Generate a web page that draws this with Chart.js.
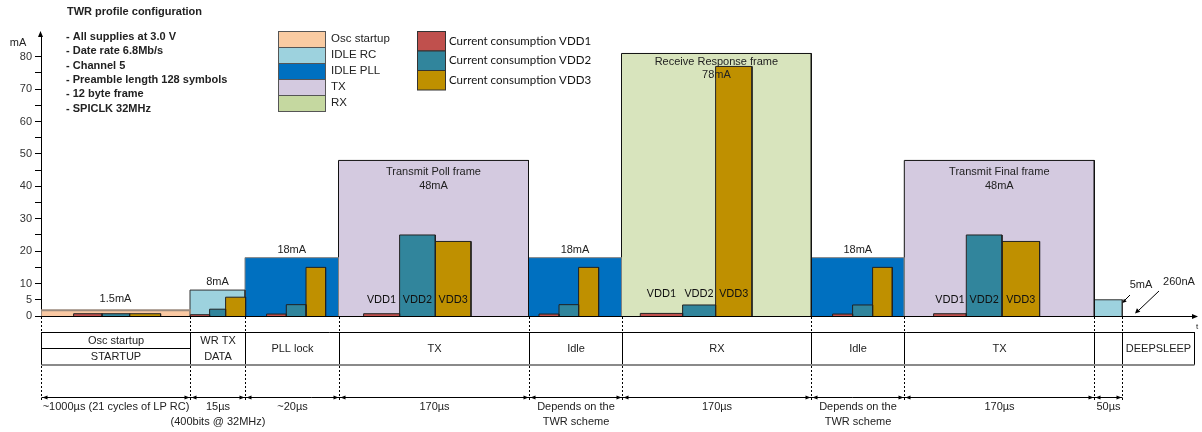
<!DOCTYPE html>
<html>
<head>
<meta charset="utf-8">
<script src="https://cdn.jsdelivr.net/npm/chart.js@4.4.0/dist/chart.umd.min.js"></script>
<style>
body { margin: 0; background: #fff; }
#wrap { width: 1202px; height: 432px; }
</style>
</head>
<body>
<div id="wrap"><canvas id="myChart" width="1202" height="432"></canvas></div>
<script>
var segStates = ['osc', 'idleRC', 'idlePLL', 'tx', 'idlePLL', 'rx', 'idlePLL', 'tx', 'idleRC'];
var segCurrent = [1.8, 8, 18, 48, 18, 81, 18, 48, 5];
var segLabels = [['1.5mA'], ['8mA'], ['18mA'], ['Transmit Poll frame', '48mA'], ['18mA'],
                 ['Receive Response frame', '78mA'], ['18mA'], ['Transmit Final frame', '48mA'], []];
var vdd1 = [0.7, 0.4, 0.6, 0.7, 0.6, 0.8, 0.6, 0.7];
var vdd2 = [0.7, 2.1, 3.5, 25, 3.5, 3.4, 3.4, 25];
var vdd3 = [0.7, 5.8, 15, 23, 15, 77, 15, 23];
var vddNamed = [3, 5, 7]; // segments où VDD1/2/3 sont écrits
var phaseNames = [['Osc startup', 'STARTUP'], ['WR TX', 'DATA'], ['PLL lock'], ['TX'], ['Idle'], ['RX'],
                  ['Idle'], ['TX'], [''], ['DEEPSLEEP']];
var durations = [['~1000µs (21 cycles of LP RC)'], ['15µs', '(400bits @ 32MHz)'], ['~20µs'], ['170µs'],
                 ['Depends on the', 'TWR scheme'], ['170µs'], ['Depends on the', 'TWR scheme'], ['170µs'], ['50µs']];
var yTicks = [0, 5, 10, 15, 20, 25, 30, 35, 40, 45, 50, 55, 60, 65, 70, 75, 80];
var yTickLabels = [0, 5, 10, 20, 30, 40, 50, 60, 70, 80];
var notes = ['- All supplies at 3.0 V', '- Date rate 6.8Mb/s', '- Channel 5',
             '- Preamble length 128 symbols', '- 12 byte frame', '- SPICLK 32MHz'];

// mise en page (unités de l'axe x)
var segEdges = [0, 149, 204, 297.5, 487.5, 580.5, 770.3, 863.3, 1053.3, 1081.3];
var tableEnd = 1153.3;
var barEdges = [[32.6, 61, 88.6, 119.6], [149.3, 168.6, 184.6, 204.6], [225.6, 245.3, 265, 284.6],
                [322.6, 358.6, 394.3, 430], [498, 518, 537.6, 557.6], [599.3, 641.6, 674.6, 711],
                [791.6, 811.6, 831.6, 851.3], [892.6, 925.3, 961, 998.6]];

var stateColors = { osc: '#fac9a3', idleRC: '#9dd2de', idlePLL: '#0070c0', tx: '#d4cae0', rx: '#d8e4bd' };
var stateBorders = { osc: '#9c8b7e', idleRC: '#333333', idlePLL: '#808080', tx: '#111111', rx: '#111111' };
var vddColors = ['#c0504d', '#31859c', '#bf9000'];

function rect(x0, x1, h) {
    return [{x: x0, y: 0}, {x: x0, y: h}, {x: x1, y: h}, {x: x1, y: 0}];
}

var datasets = [];
segCurrent.forEach(function(h, i) {
    var st = segStates[i];
    datasets.push({
        data: rect(segEdges[i], segEdges[i + 1], h),
        backgroundColor: stateColors[st],
        borderColor: stateBorders[st],
        borderWidth: st === 'osc' ? 2 : 1,
        fill: 'origin', pointRadius: 0, tension: 0, order: 2
    });
});
[vdd1, vdd2, vdd3].forEach(function(serie, k) {
    serie.forEach(function(v, i) {
        datasets.push({
            data: rect(barEdges[i][k], barEdges[i][k + 1], v),
            backgroundColor: vddColors[k],
            borderColor: '#222',
            borderWidth: 1,
            fill: 'origin', pointRadius: 0, tension: 0, order: 1
        });
    });
});

var ARIAL = '"Liberation Sans", Arial, sans-serif';
var CALI = 'Lato, "Open Sans", sans-serif';

function arrowHead(ctx, tx, ty, dx, dy, len, half) {
    // pointe en (tx,ty), direction (dx,dy)
    ctx.beginPath();
    ctx.moveTo(tx, ty);
    ctx.lineTo(tx - dx * len - dy * half, ty - dy * len + dx * half);
    ctx.lineTo(tx - dx * len + dy * half, ty - dy * len - dx * half);
    ctx.closePath();
    ctx.fill();
}

var decor = {
    id: 'decor',
    afterDraw: function(chart) {
        var ctx = chart.ctx;
        var xs = chart.scales.x, ys = chart.scales.y;
        var xp = function(u) { return xs.getPixelForValue(u); };
        var yp = function(v) { return ys.getPixelForValue(v); };
        var y0 = yp(0);
        var left = xp(0);
        ctx.save();
        ctx.fillStyle = '#000';
        ctx.strokeStyle = '#000';
        ctx.lineWidth = 1;

        // axes
        ctx.beginPath();
        ctx.moveTo(left, y0 + 0.5);
        ctx.lineTo(1193, y0 + 0.5);
        ctx.stroke();
        arrowHead(ctx, 1198, y0 + 0.5, 1, 0, 6, 2.5);
        arrowHead(ctx, Math.round(left) - 0.5, 31, 0, -1, 6, 2.5);

        ctx.textAlign = 'center';
        ctx.textBaseline = 'middle';
        ctx.fillStyle = '#222';
        ctx.font = '11px ' + ARIAL;
        ctx.fillText('mA', 18, 43);
        ctx.font = '8px ' + ARIAL;
        ctx.fillText('t', 1197, 327);

        // libellés des blocs
        ctx.font = '11px ' + ARIAL;
        segLabels.forEach(function(lines, i) {
            var cx = (xp(segEdges[i]) + xp(segEdges[i + 1])) / 2;
            var top = yp(segCurrent[i]);
            if (lines.length === 1) {
                ctx.fillText(lines[0], cx, top - (i === 0 ? 11 : 8));
            } else if (lines.length === 2) {
                var off = segStates[i] === 'rx' ? 8 : 12;
                ctx.fillText(lines[0], cx, top + off);
                ctx.fillText(lines[1], cx, top + off + 13.5);
            }
        });
        ctx.fillText('5mA', 1141, 285);
        ctx.fillText('260nA', 1179, 282);
        ctx.lineWidth = 1;
        ctx.strokeStyle = '#000';
        ctx.fillStyle = '#000';
        ctx.beginPath(); ctx.moveTo(1130, 295); ctx.lineTo(1125, 300); ctx.stroke();
        arrowHead(ctx, 1122.5, 303, -0.7, 0.7, 4, 2);
        ctx.beginPath(); ctx.moveTo(1159, 291); ctx.lineTo(1139, 310); ctx.stroke();
        arrowHead(ctx, 1135, 313.5, -0.72, 0.69, 5, 2.5);

        // VDD1/2/3
        ctx.fillStyle = '#111';
        ctx.font = '10.5px ' + CALI;
        vddNamed.forEach(function(i) {
            var ly = i === 5 ? 294 : 300;
            for (var k = 0; k < 3; k++) {
                var cx = (xp(barEdges[i][k]) + xp(barEdges[i][k + 1])) / 2;
                ctx.fillText('VDD' + (k + 1), cx, ly);
            }
        });

        // tableau des phases
        var edgesPx = segEdges.map(function(u) { return Math.round(xp(u)) + 0.5; });
        var endPx = Math.round(xp(tableEnd)) + 0.5;
        ctx.strokeStyle = '#000';
        ctx.lineWidth = 1;
        ctx.beginPath();
        ctx.moveTo(edgesPx[0], 332.5); ctx.lineTo(endPx, 332.5);
        ctx.moveTo(edgesPx[0], 348.5); ctx.lineTo(edgesPx[1], 348.5);
        edgesPx.concat([endPx]).forEach(function(x) { ctx.moveTo(x, 332); ctx.lineTo(x, 365); });
        ctx.stroke();
        ctx.strokeStyle = '#8a8a8a';
        ctx.lineWidth = 2;
        ctx.beginPath(); ctx.moveTo(edgesPx[0], 365); ctx.lineTo(endPx, 365); ctx.stroke();

        ctx.strokeStyle = '#000';
        ctx.lineWidth = 1;
        ctx.setLineDash([2, 2]);
        ctx.beginPath();
        edgesPx.forEach(function(x) {
            ctx.moveTo(x, y0 + 1); ctx.lineTo(x, 332);
            ctx.moveTo(x, 366); ctx.lineTo(x, 400);
        });
        ctx.stroke();
        ctx.setLineDash([]);

        // ligne de cotes
        ctx.beginPath();
        ctx.moveTo(edgesPx[0], 397.5); ctx.lineTo(edgesPx[edgesPx.length - 1], 397.5);
        ctx.stroke();
        ctx.fillStyle = '#000';
        edgesPx.forEach(function(x, i) {
            if (i > 0) arrowHead(ctx, x - 1, 397.5, 1, 0, 5, 2);
            if (i < edgesPx.length - 1) arrowHead(ctx, x + 1, 397.5, -1, 0, 5, 2);
        });

        ctx.fillStyle = '#222';
        ctx.font = '11px ' + ARIAL;
        var cells = edgesPx.concat([endPx]);
        phaseNames.forEach(function(lines, i) {
            var cx = (cells[i] + cells[i + 1]) / 2;
            if (lines.length === 1) ctx.fillText(lines[0], cx, 349);
            else { ctx.fillText(lines[0], cx, 341); ctx.fillText(lines[1], cx, 357); }
        });
        durations.forEach(function(lines, i) {
            var cx = (edgesPx[i] + edgesPx[i + 1]) / 2;
            ctx.fillText(lines[0], cx, 407);
            if (lines[1]) ctx.fillText(lines[1], cx, 422);
        });

        // titre et notes
        ctx.textAlign = 'left';
        ctx.font = 'bold 11px ' + ARIAL;
        ctx.fillText('TWR profile configuration', 67, 12);
        notes.forEach(function(t, i) { ctx.fillText(t, 66, 37 + i * 14.3); });

        // légende des états
        var leg1 = [['Osc startup', '#f9cba2'], ['IDLE RC', '#9dd2de'], ['IDLE PLL', '#0070c0'], ['TX', '#d4cae0'], ['RX', '#c5d8a0']];
        ctx.font = '11.5px ' + ARIAL;
        leg1.forEach(function(l, i) {
            var y = 31.5 + i * 16;
            ctx.fillStyle = l[1];
            ctx.fillRect(278.5, y, 47, 16);
            ctx.strokeStyle = '#555';
            ctx.strokeRect(278.5, y, 47, 16);
            ctx.fillStyle = '#222';
            ctx.fillText(l[0], 331, y + 7);
        });
        // légende des alimentations
        ctx.font = '11.5px ' + CALI;
        vddColors.forEach(function(c, k) {
            var y = 31.5 + k * 19.5;
            ctx.fillStyle = c;
            ctx.fillRect(417.5, y, 28, 19.5);
            ctx.strokeStyle = '#333';
            ctx.strokeRect(417.5, y, 28, 19.5);
            ctx.fillStyle = '#111';
            ctx.fillText('Current consumption VDD' + (k + 1), 449, y + 9.5);
        });
        ctx.restore();
    }
};

var ctx = document.getElementById('myChart').getContext('2d');
var myChart = new Chart(ctx, {
    type: 'line',
    data: { datasets: datasets },
    options: {
        responsive: false,
        animation: false,
        layout: { padding: { top: 35, bottom: 116, left: 0, right: 6 } },
        plugins: { legend: { display: false }, tooltip: { enabled: false } },
        scales: {
            x: { type: 'linear', min: 0, max: 1155, display: false },
            y: {
                type: 'linear', min: 0, max: 86.7,
                afterFit: function(scale) { scale.width = 41; },
                afterBuildTicks: function(scale) {
                    scale.ticks = yTicks.map(function(v) { return {value: v}; });
                },
                ticks: {
                    color: '#333',
                    font: { family: ARIAL, size: 11 },
                    padding: 3,
                    callback: function(value) {
                        return yTickLabels.indexOf(value) >= 0 ? String(value) : '';
                    }
                },
                grid: { drawOnChartArea: false, tickLength: 6, color: '#000', lineWidth: 1 },
                border: { display: true, color: '#000', width: 1 }
            }
        }
    },
    plugins: [decor]
});
</script>
</body>
</html>
